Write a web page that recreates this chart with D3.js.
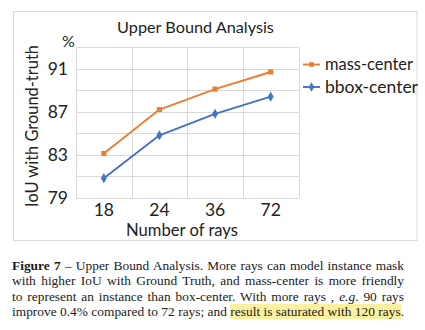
<!DOCTYPE html>
<html>
<head>
<meta charset="utf-8">
<script src="https://cdn.jsdelivr.net/npm/d3@7"></script>
<style>
  html, body { margin: 0; padding: 0; background: #fff; }
  #wrap { position: relative; width: 425px; height: 330px; overflow: hidden; }
  svg { position: absolute; left: 0; top: 0; }
  #caption { position: absolute; left: 12px; top: 258px; width: 392px;
    font-family: "Liberation Serif", "Times New Roman", serif; font-size: 13.4px; color: #1a1a1a; }
  #caption div { text-align: justify; text-align-last: justify; line-height: 15.3px; white-space: nowrap; }
  .hl { background: #fbf0a0; }
</style>
</head>
<body>
<div id="wrap"></div>
<script>
// ---- data ----
const categories = ["18", "24", "36", "72"];
const massCenter = [83.1, 87.2, 89.1, 90.7];
const bboxCenter = [80.8, 84.8, 86.8, 88.4];
const seriesNames = ["mass-center", "bbox-center"];
const yTicks = [79, 83, 87, 91];
const yGrid = [79, 81, 83, 85, 87, 89, 91, 93];
const chartTitle = "Upper Bound Analysis";
const xTitle = "Number of rays";
const yTitle = "IoU with Ground-truth";
const unitLabel = "%";
const captionLines = [
  ['<b>Figure 7</b> – Upper Bound Analysis. More rays can model instance mask'],
  ['with higher IoU with Ground Truth, and mass-center is more friendly'],
  ['to represent an instance than box-center. With more rays , <i>e.g</i>. 90 rays'],
  ['improve 0.4% compared to 72 rays; and <span class="hl">result is saturated with 120 rays</span>.']
];

const W = 425, H = 330;
const orange = "#ED7D31", blue = "#4472C4";
const font = "Lato, 'Open Sans', sans-serif";
const wrap = d3.select("#wrap");
const svg = wrap.append("svg").attr("width", W).attr("height", H);

// chart frame
svg.append("rect").attr("x", 13.5).attr("y", 11.5).attr("width", 403.5).attr("height", 229)
  .attr("fill", "#fff").attr("stroke", "#d9d9d9").attr("stroke-width", 1);

const x = d3.scaleBand().domain(categories).range([76, 298.5]).padding(0);
const y = d3.scaleLinear().domain([79, 93]).range([197.5, 47.3]);

// horizontal gridlines
svg.append("g").selectAll("line").data(yGrid).join("line")
  .attr("x1", x.range()[0]).attr("x2", x.range()[1])
  .attr("y1", d => Math.round(y(d)) + 0.5).attr("y2", d => Math.round(y(d)) + 0.5)
  .attr("stroke", "#d9d9d9").attr("stroke-width", 1);
// vertical gridlines at category boundaries
const bounds = categories.map(c => x(c)).concat([x.range()[1]]);
svg.append("g").selectAll("line").data(bounds).join("line")
  .attr("x1", d => Math.round(d) + 0.5).attr("x2", d => Math.round(d) + 0.5)
  .attr("y1", y(93)).attr("y2", y(79))
  .attr("stroke", "#d9d9d9").attr("stroke-width", 1);

function fitText(sel, target) {
  const w = sel.node().getComputedTextLength();
  const fs = parseFloat(sel.attr("font-size"));
  sel.attr("font-size", fs * target / w);
}

// y tick labels
svg.append("g").selectAll("text").data(yTicks).join("text")
  .attr("x", 68).attr("y", d => y(d) + 6)
  .attr("text-anchor", "end").attr("font-family", font).attr("font-size", 17.5)
  .attr("fill", "#222").text(d => d);
// x tick labels
svg.append("g").selectAll("text").data(categories).join("text")
  .attr("x", d => x(d) + x.bandwidth() / 2).attr("y", 215.5)
  .attr("text-anchor", "middle").attr("font-family", font).attr("font-size", 17.5)
  .attr("fill", "#222").text(d => d);

// titles
const t = svg.append("text").attr("x", 195.5).attr("y", 32.5).attr("text-anchor", "middle")
  .attr("font-family", font).attr("font-size", 16).attr("fill", "#222").text(chartTitle);
fitText(t, 157);
const xt = svg.append("text").attr("x", 182).attr("y", 235.5).attr("text-anchor", "middle")
  .attr("font-family", font).attr("font-size", 17).attr("fill", "#222").text(xTitle);
fitText(xt, 112);
const yt = svg.append("text").attr("transform", "translate(38,126) rotate(-90)").attr("text-anchor", "middle")
  .attr("font-family", font).attr("font-size", 17).attr("fill", "#222").text(yTitle);
fitText(yt, 162);
svg.append("text").attr("x", 62).attr("y", 46.5).attr("font-family", font).attr("font-size", 16)
  .attr("fill", "#222").text(unitLabel);

// series
const series = [
  { name: seriesNames[0], values: massCenter, color: orange, marker: "square" },
  { name: seriesNames[1], values: bboxCenter, color: blue, marker: "diamond" }
];
const line = d3.line().x((d, i) => x(categories[i]) + x.bandwidth() / 2).y(d => y(d));
const sym = { square: d3.symbolSquare, diamond: d3.symbolDiamond };
series.forEach(s => {
  svg.append("path").datum(s.values).attr("d", line).attr("fill", "none")
    .attr("stroke", s.color).attr("stroke-width", 1.9).attr("stroke-linejoin", "round");
  svg.append("g").selectAll("path").data(s.values).join("path")
    .attr("transform", (d, i) => `translate(${x(categories[i]) + x.bandwidth() / 2},${y(d)})`)
    .attr("d", d3.symbol().type(sym[s.marker]).size(s.marker === "square" ? 26 : 30))
    .attr("fill", s.color);
});

// legend
const lg = svg.append("g");
series.forEach((s, i) => {
  const ly = 64.5 + i * 22.5;
  lg.append("line").attr("x1", 303).attr("x2", 320).attr("y1", ly).attr("y2", ly)
    .attr("stroke", s.color).attr("stroke-width", 1.9);
  lg.append("path").attr("transform", `translate(311.5,${ly})`)
    .attr("d", d3.symbol().type(sym[s.marker]).size(s.marker === "square" ? 22 : 26)).attr("fill", s.color);
  const tx = lg.append("text").attr("x", 325).attr("y", ly + 5.5).attr("font-family", font)
    .attr("font-size", 17.5).attr("fill", "#222").text(s.name);
  if (i === 0) fitText(tx, 88);
});

// caption
const cap = wrap.append("div").attr("id", "caption");
cap.selectAll("div").data(captionLines).join("div").html(d => d[0]);
</script>
</body>
</html>
